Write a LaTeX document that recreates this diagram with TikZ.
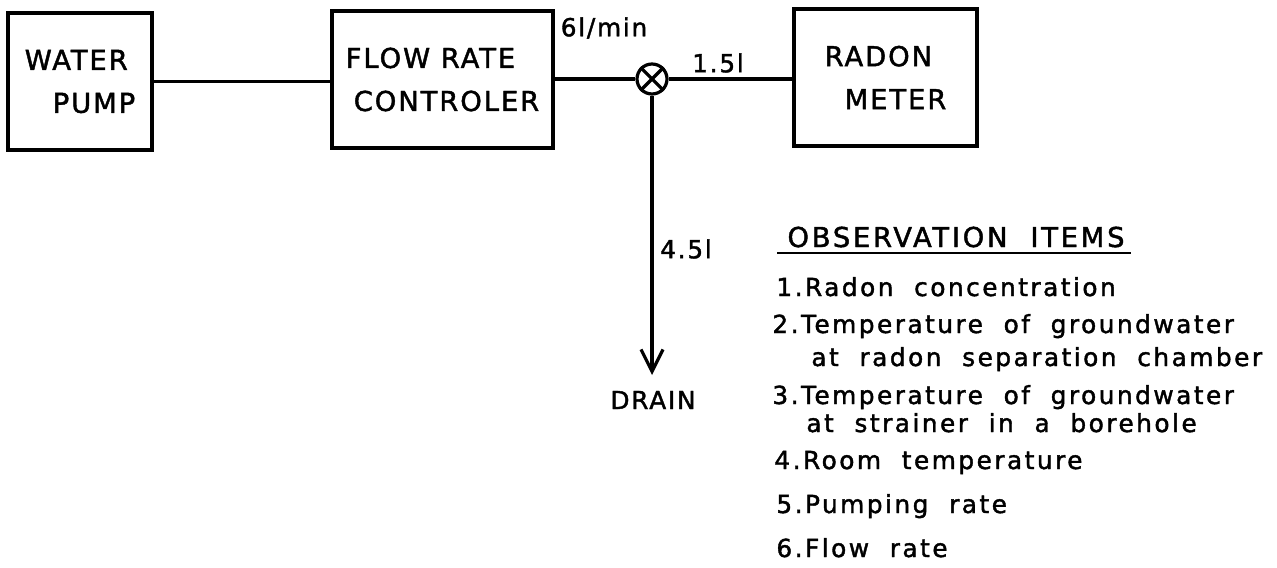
\documentclass[tikz,border=0pt]{standalone}
\usepackage{fontspec}
\setmainfont{DejaVu Sans}
\newfontfamily\boxfont[LetterSpace=7,FakeBold=1.6]{DejaVu Sans}
\newfontfamily\letteringfont[LetterSpace=10,WordSpace=2,FakeBold=1.6]{DejaVu Sans}
\usetikzlibrary{arrows.meta}
\tikzset{
  unit box/.style={draw=black, line width=2pt, inner sep=2pt, align=left,
    minimum height=68.5pt, font=\boxfont\fontsize{13.7}{21.5}\selectfont},
  valve mark/.style={draw=black, circle, line width=1.6pt, minimum size=15pt,
    inner sep=0pt},
  pipe/.style={line width=1.6pt},
  drain arrow/.style={pipe,-{Straight Barb[length=11pt,width=11pt]}},
  flow label/.style={font=\boxfont\fontsize{12.4}{15}\selectfont,
    inner sep=0pt},
  observation/.style={font=\letteringfont\fontsize{12.4}{15}\selectfont,
    inner sep=0pt, anchor=base west}
}
\newcommand{\obsItem}[4]{%
  \node[observation] (#1) at (#2,#3) {#4};%
}

\begin{document}
\begin{tikzpicture}[x=0.5pt,y=-0.5pt]
  \useasboundingbox (0,0) rectangle (1277,567);

  \node[unit box,minimum width=72pt] (pump) at (80,81.5)
    {WATER\\\hspace*{14pt}PUMP};
  \node[unit box,minimum width=110.5pt] (ctrl) at (442.5,79.5)
    {FLOW RATE\\\hspace*{4pt}CONTROLER};
  \node[unit box,minimum width=91.5pt] (meter) at (885.5,77.5)
    {RADON\\\hspace*{10pt}METER};
  \node[valve mark] (valve) at (652,79) {};
  \draw[pipe] (valve.north west) -- (valve.south east);
  \draw[pipe] (valve.north east) -- (valve.south west);

  \draw[pipe] (pump.east) -- (pump.east -| ctrl.west);
  \draw[pipe] (valve) -- (valve -| ctrl.east);
  \draw[pipe] (valve) -- (valve -| meter.west);
  \coordinate (drain tip) at (652,375);
  \draw[drain arrow] (valve) -- (drain tip);

  \node[flow label] (total) at (604,28) {6l/min};
  \node[flow label] (to meter) at (718,63) {1.5l};
  \node[flow label] (to drain) at (686,249) {4.5l};
  \node[flow label] (drain) at (653,400) {DRAIN};

  \node[inner sep=0pt,anchor=base,font=\letteringfont\fontsize{13.7}{16}\selectfont]
    (items) at (956,247) {OBSERVATION ITEMS};
  \draw[line width=1.3pt] ([xshift=-5pt,yshift=-3pt]items.base west)
    -- ([xshift=3pt,yshift=-3pt]items.base east);

  \obsItem{item1}{776}{296}{1.Radon concentration}
  \obsItem{item2}{772}{333}{2.Temperature of groundwater}
  \obsItem{item2b}{811}{366}{at radon separation chamber}
  \obsItem{item3}{772}{404}{3.Temperature of groundwater}
  \obsItem{item3b}{806}{432}{at strainer in a borehole}
  \obsItem{item4}{774}{469}{4.Room temperature}
  \obsItem{item5}{776}{513}{5.Pumping rate}
  \obsItem{item6}{776}{557}{6.Flow rate}
\end{tikzpicture}
\end{document}
